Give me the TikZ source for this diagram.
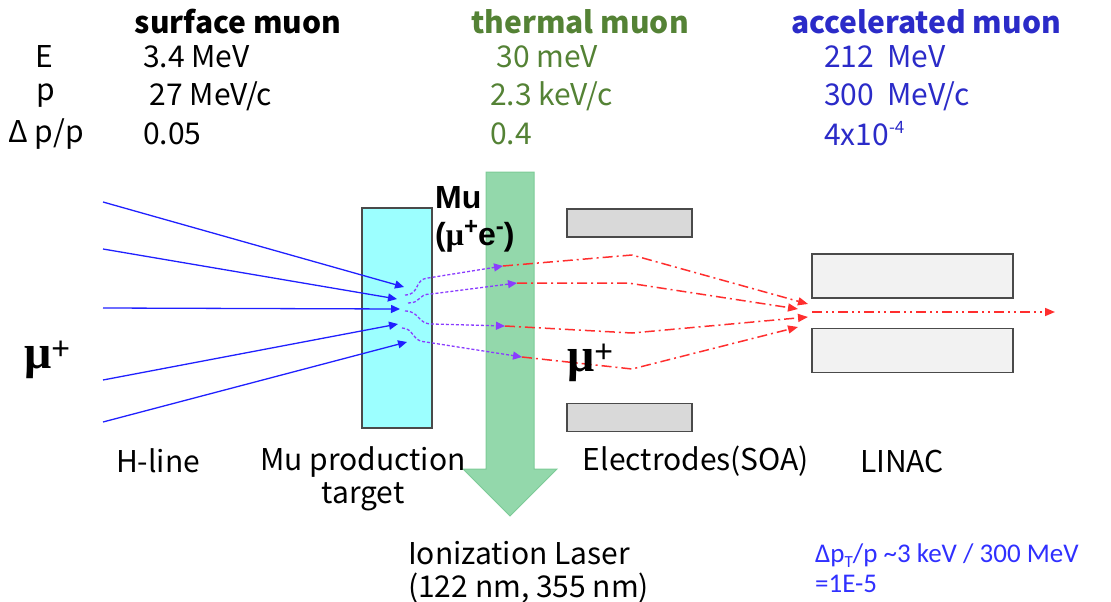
\documentclass[tikz,border=0pt]{standalone}
\usepackage{fontspec}
\setmainfont{Noto Sans CJK JP}
\newfontfamily\mufont{Liberation Sans}
\newfontfamily\greekfont{Liberation Serif}
\newfontfamily\calfont{Carlito}
\usetikzlibrary{positioning,arrows.meta}
\definecolor{ThermGreen}{HTML}{548235}
\definecolor{AccBlue}{HTML}{2B2BC8}
\definecolor{NoteBlue}{HTML}{3030FF}
\definecolor{BeamBlue}{HTML}{2020FF}
\definecolor{MuViolet}{HTML}{8A3CFF}
\definecolor{BeamRed}{HTML}{FF2E2E}
\definecolor{TargetCyan}{HTML}{9CFFFF}
\definecolor{LaserGreen}{HTML}{93D8AB}
\definecolor{LaserEdge}{HTML}{7CCB97}
\definecolor{ElecGray}{HTML}{D9D9D9}
\definecolor{LinacGray}{HTML}{F2F2F2}
\definecolor{EdgeGray}{HTML}{4A4A4A}
\newcommand{\upidx}[1]{\raisebox{0.75ex}{\fontsize{17}{17}\selectfont #1}}
\newcommand{\dnidx}[1]{\raisebox{-0.35ex}{\fontsize{17}{17}\selectfont #1}}
\newcommand{\muplus}{{\greekfont\bfseries μ}\raisebox{9pt}{\mufont\mdseries\fontsize{32}{32}\selectfont +}}

\begin{document}
\begin{tikzpicture}[x=1pt, y=-1pt,
    txt/.style={inner sep=0pt, anchor=west, font=\fontsize{30}{33}\selectfont},
    head/.style={inner sep=0pt, font=\fontsize{30}{34}\selectfont\bfseries},
    capt/.style={inner sep=0pt, align=center, font=\fontsize{30}{33}\selectfont},
    mulbl/.style={inner sep=0pt, anchor=base west, font=\fontsize{48}{50}\selectfont},
    slab/.style={draw=EdgeGray, line width=1.3pt, inner sep=0pt},
    elec/.style={slab, fill=ElecGray, minimum width=125pt, minimum height=28pt},
    linac/.style={slab, fill=LinacGray, minimum width=201pt, minimum height=44pt},
    beam/.style={BeamBlue, line width=1.3pt, -{Triangle[length=9pt,width=8pt]}},
    mu/.style={MuViolet, line width=1.3pt, dash pattern=on 3pt off 2pt,
               -{Triangle[length=9pt,width=8pt]}},
    ion/.style={BeamRed, line width=1.5pt, dash pattern=on 10pt off 4pt on 2pt off 4pt,
                -{Triangle[length=10pt,width=8pt]}}
  ]
  \useasboundingbox (0,0) rectangle (1111,602);

  % table of beam parameters
  \node[head] (hdsurf) at (238,22) {surface muon};
  \node[head, ThermGreen] (hdtherm) at (580,22) {thermal muon};
  \node[head, AccBlue] (hdacc) at (926,22) {accelerated muon};
  \node[txt, anchor=center] (lbE) at (44,57) {E};
  \node[txt, anchor=center] (lbp) at (46,96) {p};
  \node[txt, anchor=center] (lbdp) at (46,134) {Δ p/p};
  \node[txt] (sfE) at (143,57) {3.4 MeV};
  \node[txt] (sfp) at (143,96) {\ 27 MeV/c};
  \node[txt] (sfdp) at (143,134) {0.05};
  \node[txt, ThermGreen] (thE) at (490,57) {\ 30 meV};
  \node[txt, ThermGreen] (thp) at (490,96) {2.3 keV/c};
  \node[txt, ThermGreen] (thdp) at (490,134) {0.4};
  \node[txt, AccBlue] (acE) at (824,57) {212\ \ MeV};
  \node[txt, AccBlue] (acp) at (824,96) {300\ \ MeV/c};
  \node[txt, AccBlue] (acdp) at (824,134) {4x10\upidx{-4}};

  % target and incoming surface muons
  \node[slab, fill=TargetCyan, minimum width=70pt, minimum height=220pt] (target) at (397,318) {};
  \coordinate (b1) at (103,202); \coordinate (t1) at (404,287);
  \coordinate (b2) at (103,249); \coordinate (t2) at (397,299);
  \coordinate (b3) at (103,308); \coordinate (t3) at (400,309);
  \coordinate (b4) at (103,380); \coordinate (t4) at (398,324);
  \coordinate (b5) at (103,422); \coordinate (t5) at (407,342);
  \foreach \i in {1,...,5}
    \draw[beam] (b\i) -- (t\i);
  \node[mulbl] (muin) at (24,368) {\muplus};

  % ionization laser
  \draw[LaserEdge, fill=LaserGreen, line width=1pt]
    (486,172) -- (534,172) -- (534,469) -- (557,469) -- (510,516)
    -- (463,469) -- (486,469) -- cycle;
  \node[inner sep=0pt, anchor=west, font=\mufont\fontsize{32}{37}\selectfont\bfseries,
        align=left] (mulab) at (435,219)
        {Mu\\({\greekfont μ}\raisebox{0.6ex}{\fontsize{24}{24}\selectfont +}e\raisebox{0.6ex}{\fontsize{24}{24}\selectfont -})};

  % electrodes and linac
  \node[elec] (etop) at (629.5,223) {};
  \node[elec, below=165pt of etop] (ebot) {};
  \node[linac] (ltop) at (912.5,276) {};
  \node[linac, below=29pt of ltop] (lbot) {};

  % thermal muonium drift
  \coordinate (p1) at (405,295); \coordinate (n1) at (428,278); \coordinate (q1) at (503,266);
  \coordinate (p2) at (408,303); \coordinate (n2) at (431,294); \coordinate (q2) at (517,283);
  \coordinate (p3) at (405,311); \coordinate (n3) at (432,324); \coordinate (q3) at (505,326);
  \coordinate (p4) at (402,328); \coordinate (n4) at (426,342); \coordinate (q4) at (522,357);
  \draw[mu] (p1) .. controls (420,295) and (414,279) .. (n1) -- (q1);
  \draw[mu] (p2) .. controls (422,303) and (417,294) .. (n2) -- (q2);
  \draw[mu] (p3) .. controls (420,311) and (417,324) .. (n3) -- (q3);
  \draw[mu] (p4) .. controls (414,328) and (412,342) .. (n4) -- (q4);

  % ionized muons into the linac
  \coordinate (k1) at (632,255); \coordinate (e1) at (808,304);
  \coordinate (k2) at (628,283); \coordinate (e2) at (798,309);
  \coordinate (k3) at (632,333); \coordinate (e3) at (808,317);
  \coordinate (k4) at (632,369); \coordinate (e4) at (798,327);
  \foreach \i in {1,...,4}
    \draw[ion] (q\i) -- (k\i) -- (e\i);
  \coordinate (o1) at (812,312); \coordinate (o2) at (1055,312);
  \draw[ion, dash pattern=on 10pt off 4pt on 2pt off 4pt on 2pt off 4pt] (o1) -- (o2);
  \node[mulbl] (muout) at (567,371) {\muplus};

  % captions
  \node[capt] (chline) at (158,461) {H-line};
  \node[capt, anchor=north] (ctarget) at (363,446) {Mu production\\target};
  \node[capt] (celec) at (696,461) {Electrodes(SOA)};
  \node[capt] (clinac) at (902,461) {LINAC};
  \node[capt, align=left, anchor=north west] (claser) at (408,541) {Ionization Laser\\(122 nm, 355 nm)};
  \node[inner sep=0pt, align=left, anchor=north west, NoteBlue,
        font=\calfont\fontsize{27}{30}\selectfont] (cnote) at (815,544)
        {Δp\dnidx{T}/p {\char`\~}3 keV / 300 MeV\\=1E-5};
\end{tikzpicture}
\end{document}
